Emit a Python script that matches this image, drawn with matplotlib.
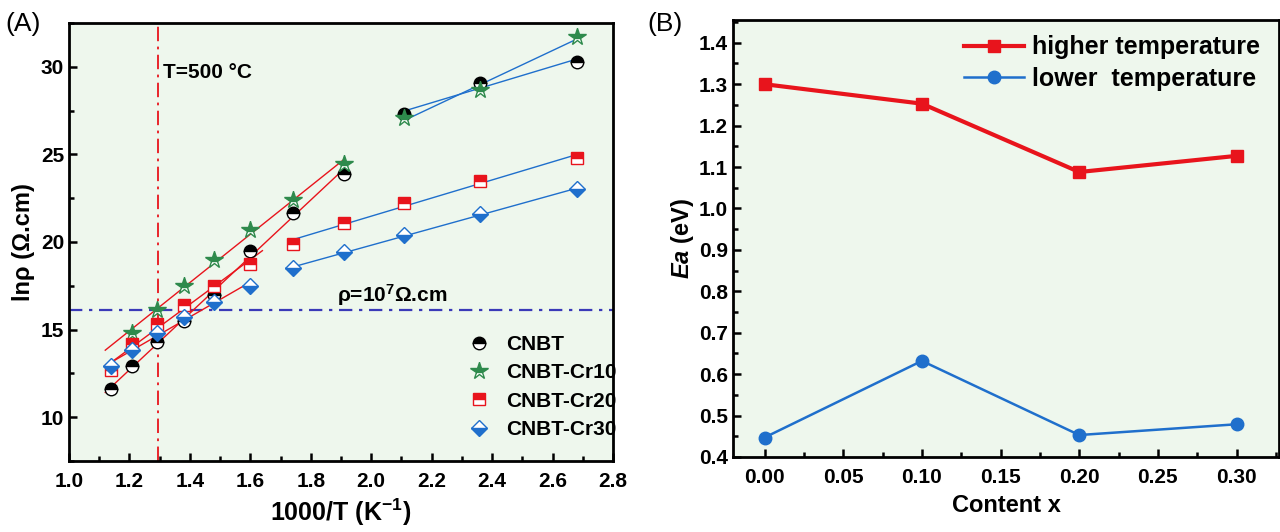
import numpy as np
import matplotlib.pyplot as plt
from matplotlib.ticker import MultipleLocator

plt.rcParams['font.family'] = ['Liberation Sans', 'DejaVu Sans']
plt.rcParams['font.weight'] = 'bold'
plt.rcParams['mathtext.fontset'] = 'custom'
plt.rcParams['mathtext.rm'] = 'Liberation Sans:bold'
plt.rcParams['mathtext.it'] = 'Liberation Sans:bold:italic'

# ---- panel A data: 1000/T vs ln(rho) ----
invT = [1.14, 1.21, 1.29, 1.38, 1.48, 1.60, 1.74, 1.91, 2.11, 2.36, 2.68]
cnbt = [11.6, 12.9, 14.3, 15.5, 17.0, 19.5, 21.65, 23.9, 27.3, 29.1, 30.3]
cr10 = [np.nan, 14.8, 16.1, 17.5, 19.0, 20.7, 22.4, 24.45, 27.1, 28.7, 31.7]
cr20 = [12.7, 14.2, 15.3, 16.4, 17.5, 18.75, 19.9, 21.1, 22.2, 23.5, 24.8]
cr30 = [12.9, 13.85, 14.8, 15.7, 16.6, 17.5, 18.5, 19.4, 20.4, 21.6, 23.0]

# which points go into the high-T (red) and low-T (blue) fits, and red line end
fits = {
    'CNBT':      ((0, 8), (8, 11), 1.91),
    'CNBT-Cr10': ((1, 8), (8, 11), 1.91),
    'CNBT-Cr20': ((0, 6), (6, 11), 1.64),
    'CNBT-Cr30': ((0, 6), (6, 11), 1.60),
}

# ---- panel B data: activation energy ----
content = [0.00, 0.10, 0.20, 0.30]
ea_high = [1.300, 1.253, 1.088, 1.127]
ea_low = [0.447, 0.632, 0.453, 0.479]

RED = '#e8141c'
BLUE = '#1f6fcc'
GREEN = '#2e8a4c'
BG = '#eef7ed'

fig = plt.figure(figsize=(12.8, 5.32), dpi=100)
axA = fig.add_axes([0.0539, 0.1335, 0.4250, 0.8233])
axB = fig.add_axes([0.5727, 0.1410, 0.4266, 0.8214])

series = [
    ('CNBT', cnbt, dict(marker='o', color='black', fillstyle='top', markerfacecoloralt='white', markersize=9)),
    ('CNBT-Cr10', cr10, dict(marker='*', color=GREEN, fillstyle='top', markerfacecoloralt='white', markersize=13)),
    ('CNBT-Cr20', cr20, dict(marker='s', color=RED, fillstyle='top', markerfacecoloralt='white', markersize=8)),
    ('CNBT-Cr30', cr30, dict(marker='D', color=BLUE, fillstyle='bottom', markerfacecoloralt='white', markersize=8)),
]

x = np.array(invT)
for name, vals, st in series:
    y = np.array(vals)
    hi, lo, xend = fits[name]
    xs, ys = x[hi[0]:hi[1]], y[hi[0]:hi[1]]
    k, b = np.polyfit(xs, ys, 1)
    xx = np.array([1.12, xend])
    axA.plot(xx, k * xx + b, color=RED, lw=1.0, zorder=2)
    xs, ys = x[lo[0]:lo[1]], y[lo[0]:lo[1]]
    k, b = np.polyfit(xs, ys, 1)
    xx = np.array([xs[0], xs[-1]])
    axA.plot(xx, k * xx + b, color=BLUE, lw=1.0, zorder=2)
    axA.plot(x, y, ls='none', markeredgewidth=1.0, label=name, zorder=3, **st)

axA.axvline(1000 / 773.15, color=RED, ls=(0, (8, 3, 1.5, 3)), lw=1.3, zorder=1)
axA.axhline(np.log(1e7), color='#3a3ab8', ls=(0, (6, 3, 1.5, 3)), lw=1.6, zorder=1)
axA.text(1.311, 29.65, 'T=500 °C', fontsize=15, fontweight='bold', va='center')
axA.text(2.07, 16.95, r'ρ=10$^{7}$Ω.cm', fontsize=15, fontweight='bold', ha='center', va='center')

axA.set_xlim(1.0, 2.8)
axA.set_ylim(7.5, 32.5)
axA.xaxis.set_major_locator(MultipleLocator(0.2))
axA.xaxis.set_minor_locator(MultipleLocator(0.1))
axA.yaxis.set_major_locator(MultipleLocator(5))
axA.yaxis.set_minor_locator(MultipleLocator(2.5))
axA.set_xlabel(r'1000/T (K$^{-1}$)', fontsize=18, fontweight='bold', labelpad=4)
axA.set_ylabel('lnρ (Ω.cm)', fontsize=17, fontweight='bold', labelpad=4)
leg = axA.legend(loc='lower left', bbox_to_anchor=(0.73, 0.05), frameon=False, fontsize=15,
                 handletextpad=0.7, labelspacing=0.45, handlelength=1.2,
                 borderpad=0, borderaxespad=0)
for t in leg.get_texts():
    t.set_fontweight('bold')

# ---- panel B ----
axB.plot(content, ea_high, color=RED, lw=3.0, marker='s', markersize=8, label='higher temperature')
axB.plot(content, ea_low, color=BLUE, lw=1.8, marker='o', markersize=9, label='lower  temperature')
axB.set_xlim(-0.02, 0.327)
axB.set_ylim(0.4, 1.455)
axB.xaxis.set_major_locator(MultipleLocator(0.05))
axB.xaxis.set_minor_locator(MultipleLocator(0.025))
axB.yaxis.set_major_locator(MultipleLocator(0.1))
axB.yaxis.set_minor_locator(MultipleLocator(0.05))
axB.xaxis.set_major_formatter(plt.FormatStrFormatter('%.2f'))
axB.yaxis.set_major_formatter(plt.FormatStrFormatter('%.1f'))
axB.set_xlabel('Content x', fontsize=17, fontweight='bold', labelpad=5)
axB.set_ylabel(r'$Ea$ (eV)', fontsize=17, fontweight='bold', labelpad=2)
leg = axB.legend(loc='upper right', bbox_to_anchor=(0.965, 0.965), frameon=False, fontsize=18,
                 handlelength=2.4, handletextpad=0.3, labelspacing=0.3,
                 borderpad=0, borderaxespad=0)
for t in leg.get_texts():
    t.set_fontweight('bold')

for ax in (axA, axB):
    ax.set_facecolor(BG)
    for s in ax.spines.values():
        s.set_linewidth(2.0)
    ax.tick_params(which='both', direction='in', width=1.8, labelsize=15)
    ax.tick_params(which='major', length=6)
    ax.tick_params(which='minor', length=3.5)
    ax.tick_params(axis='x', pad=8)
    for lab in ax.get_xticklabels() + ax.get_yticklabels():
        lab.set_fontweight('bold')

fig.text(0.004, 0.955, '(A)', fontsize=19, fontweight='normal', va='center')
fig.text(0.506, 0.955, '(B)', fontsize=19, fontweight='normal', va='center')

fig.savefig('out.png', dpi=100)
